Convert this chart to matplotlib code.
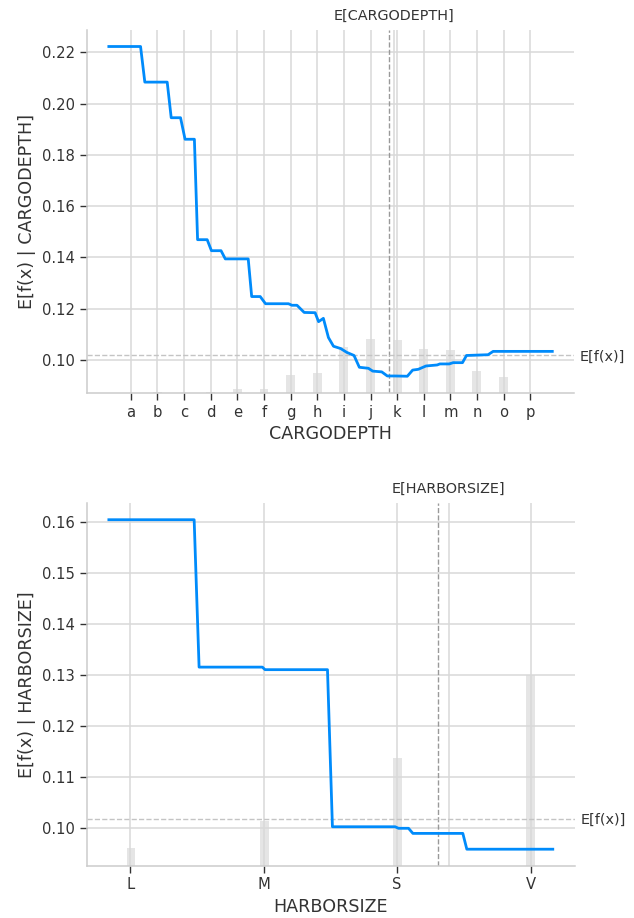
import matplotlib
matplotlib.use("Agg")
import matplotlib.pyplot as plt
import numpy as np

plt.rcParams['font.family'] = ['DejaVu Sans']

# ---------------- data ----------------
cargo_categories = list("abcdefghijklmnop")
cargo_curve_x = [-0.82, 0.37, 0.53, 1.37, 1.52, 1.87, 2.04, 2.39, 2.51, 2.87, 3.03, 3.39,
                 3.55, 4.41, 4.54, 4.86, 5.06, 5.92, 6.05, 6.24, 6.51, 6.92, 7.05, 7.23,
                 7.42, 7.61, 7.88, 8.11, 8.38, 8.58, 8.92, 9.08, 9.42, 9.63, 9.92, 10.38,
                 10.58, 10.79, 11.08, 11.50, 11.60, 11.95, 12.10, 12.45, 12.60, 13.41, 13.60, 15.82]
cargo_curve_y = [0.2223, 0.2223, 0.2084, 0.2084, 0.1945, 0.1945, 0.1861, 0.1861, 0.1469, 0.1469,
                 0.1426, 0.1426, 0.1394, 0.1394, 0.1247, 0.1247, 0.1219, 0.1219, 0.1213, 0.1213,
                 0.1185, 0.1184, 0.1149, 0.1162, 0.1087, 0.1053, 0.1044, 0.1029, 0.1017, 0.0971,
                 0.0967, 0.0956, 0.0953, 0.0937, 0.0937, 0.0936, 0.0960, 0.0963, 0.0976, 0.0980,
                 0.0984, 0.0984, 0.0989, 0.0989, 0.1017, 0.1020, 0.1033, 0.1033]
cargo_hist_share = [0.0, 0.003, 0.0, 0.003, 0.009, 0.009, 0.048, 0.054, 0.125, 0.148,
                    0.146, 0.121, 0.118, 0.061, 0.043, 0.0]
cargo_mean = 9.68

harbor_categories = ["L", "M", "S", "V"]
harbor_curve_x = [-0.16, 0.479, 0.516, 0.99, 1.01, 1.478, 1.515, 1.985, 2.01, 2.085,
                  2.118, 2.492, 2.522, 3.166]
harbor_curve_y = [0.1605, 0.1605, 0.1316, 0.1316, 0.1311, 0.1311, 0.1003, 0.1003, 0.1000,
                  0.1000, 0.0990, 0.0990, 0.0959, 0.0959]
harbor_hist_share = [0.048, 0.123, 0.296, 0.526]
harbor_mean = 2.305

expected_value = 0.1019

BLUE = "#008bfb"
TXT = "#333333"
GRID = "#d9d9d9"


def pdp_panel(fig, rect, name, cats, cx, cy, share, mean):
    ax = fig.add_axes(rect)
    ax_h = ax.twinx()
    ax_e = ax.twinx()
    ax_t = ax.twiny()
    for a in (ax_h, ax_e, ax_t):
        a.set_zorder(1)
        a.patch.set_visible(False)
        for s in a.spines.values():
            s.set_visible(False)
    ax.set_zorder(3)
    ax.patch.set_visible(False)

    xmin, xmax = min(cx), max(cx)

    # histogram of feature values
    ax_h.hist(np.arange(len(cats)), bins=50, range=(xmin, xmax), weights=share,
              color="black", alpha=0.1)
    ax_h.set_ylim(0, 1)
    ax_h.set_yticks([])

    # main curve
    ax.plot(cx, cy, color=BLUE, lw=2, zorder=4, solid_joinstyle="round")
    ax.axvline(mean, color="#999999", ls="--", lw=1, zorder=2)
    ax.axhline(expected_value, color="#c4c4c4", ls="--", lw=1, zorder=2)

    ax.set_xticks(range(len(cats)))
    ax.set_xticklabels(cats)
    ax.set_axisbelow(True)
    ax.grid(True, color=GRID, lw=1.1)
    ax.tick_params(axis="both", colors=TXT, labelsize=10.6, length=5, width=1)
    for lab in ax.get_xticklabels() + ax.get_yticklabels():
        lab.set_color(TXT)
    ax.spines["top"].set_visible(False)
    ax.spines["right"].set_visible(False)
    for s in ("left", "bottom"):
        ax.spines[s].set_color("#cccccc")
        ax.spines[s].set_linewidth(1.1)
    ax.set_xlabel(name, fontsize=12.6, color=TXT)
    ax.set_ylabel("E[f(x) | " + name + "]", fontsize=12.6, color=TXT)

    ylim = ax.get_ylim()
    ax_e.set_ylim(ylim)
    ax_e.set_yticks([expected_value])
    ax_e.set_yticklabels(["E[f(x)]"])
    ax_e.tick_params(axis="y", length=0, labelsize=10.4, colors=TXT, pad=4)

    ax_t.set_xlim(xmin, xmax)
    ax_t.set_xticks([mean])
    ax_t.set_xticklabels(["E[" + name + "]"])
    ax_t.tick_params(axis="x", length=0, labelsize=10.4, colors=TXT, pad=5)
    ax_t.grid(True, axis="x", color=GRID, lw=1.1)
    ax_t.set_axisbelow(True)
    return ax


fig = plt.figure(figsize=(6.34, 9.18), dpi=100)
pdp_panel(fig, [0.1367, 0.5722, 0.7694, 0.3951], "CARGODEPTH", cargo_categories,
          cargo_curve_x, cargo_curve_y, cargo_hist_share, cargo_mean)
pdp_panel(fig, [0.1367, 0.0570, 0.7702, 0.3948], "HARBORSIZE", harbor_categories,
          harbor_curve_x, harbor_curve_y, harbor_hist_share, harbor_mean)
fig.savefig("out.png", dpi=100, facecolor="white")
